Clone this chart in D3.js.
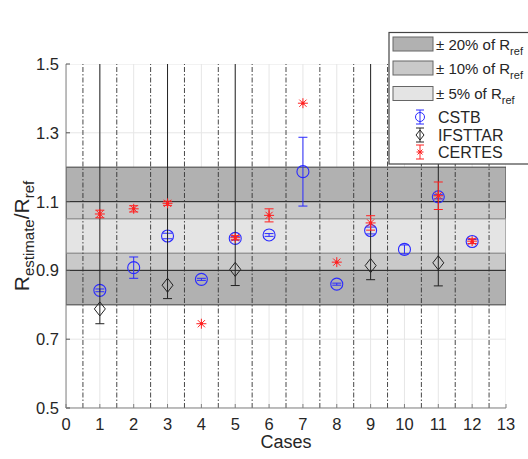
<!DOCTYPE html>
<html><head><meta charset="utf-8">
<script src="https://cdn.jsdelivr.net/npm/d3@7/dist/d3.min.js"></script>
<style>body{margin:0;background:#fff}svg{display:block;font-family:"Liberation Sans",Arial,sans-serif}</style>
</head><body><svg id="c" width="528" height="459"></svg>
<script>
const xTicks = [0,1,2,3,4,5,6,7,8,9,10,11,12,13];
const yTicks = [0.5,0.7,0.9,1.1,1.3,1.5];
const cases = [1,2,3,4,5,6,7,8,9,10,11,12];
const cstb = [0.842,0.908,1.000,0.874,0.993,1.003,1.187,0.860,1.016,0.961,1.114,0.984];
const cstbErr = [0.004,0.031,0.008,0.003,0.005,0.004,0.100,0.003,0.010,0.013,0.006,0.006];
const ifCases = [1,3,5,9,11];
const ifsttar = [0.788,0.857,0.903,0.914,0.922];
const ifLow = [0.745,0.818,0.856,0.873,0.855];
const ifHigh = [1.60,1.60,1.60,1.60,1.60];
const ceCases = [1,2,3,4,5,6,7,8,9,11,12];
const certes = [1.064,1.079,1.095,0.745,0.995,1.060,1.386,0.924,1.038,1.117,0.985];
const ceErr = [0.011,0.009,0.006,0,0.006,0.019,0,0,0.021,0.040,0.007];
const bands = [{lo:0.8,hi:1.2,fill:"#b1b1b1",edge:"#555",label:"20"},
               {lo:0.9,hi:1.1,fill:"#c9c9c9",edge:"#333",label:"10"},
               {lo:0.95,hi:1.05,fill:"#e4e4e4",edge:"#8a8a8a",label:"5"}];
const separators = [0.5,1.5,2.5,3.5,4.5,5.5,6.5,7.5,8.5,9.5,10.5,11.5,12.5];

const svg = d3.select("#c");
const x = d3.scaleLinear().domain([0,13]).range([66,506]);
const y = d3.scaleLinear().domain([0.5,1.5]).range([408,64]);
const BLUE="#2a2aff", RED="#ff2020", BLK="#222";

svg.append("clipPath").attr("id","pa").append("rect")
  .attr("x",x(0)).attr("y",y(1.5)).attr("width",x(13)-x(0)).attr("height",y(0.5)-y(1.5));
const g = svg.append("g").attr("clip-path","url(#pa)");

g.selectAll(".gx").data(xTicks).join("line").attr("x1",d=>x(d)).attr("x2",d=>x(d))
  .attr("y1",y(0.5)).attr("y2",y(1.5)).attr("stroke","#e6e6e6").attr("stroke-width",1);
g.selectAll(".gy").data(yTicks).join("line").attr("y1",d=>y(d)).attr("y2",d=>y(d))
  .attr("x1",x(0)).attr("x2",x(13)).attr("stroke","#e6e6e6").attr("stroke-width",1);

bands.forEach(b=>{
  g.append("rect").attr("x",x(0)).attr("width",x(13)-x(0))
   .attr("y",y(b.hi)).attr("height",y(b.lo)-y(b.hi)).attr("fill",b.fill)
   .attr("stroke",b.edge).attr("stroke-width",1.2);
});

g.selectAll(".sep").data(separators).join("line").attr("x1",d=>x(d)).attr("x2",d=>x(d))
  .attr("y1",y(0.5)).attr("y2",y(1.5)).attr("stroke","#333").attr("stroke-width",0.9)
  .attr("stroke-dasharray","5,2,1.5,2");

function errbar(sel, xv, lo, hi, color){
  const cw=4.5;
  sel.append("line").attr("x1",x(xv)).attr("x2",x(xv)).attr("y1",y(lo)).attr("y2",y(hi)).attr("stroke",color).attr("stroke-width",1);
  [lo,hi].forEach(v=>sel.append("line").attr("x1",x(xv)-cw).attr("x2",x(xv)+cw).attr("y1",y(v)).attr("y2",y(v)).attr("stroke",color).attr("stroke-width",1));
}
function circleM(sel,cx,cy){ sel.append("circle").attr("cx",cx).attr("cy",cy).attr("r",6).attr("fill","none").attr("stroke",BLUE).attr("stroke-width",1.1); }
function diamondM(sel,cx,cy){ sel.append("path").attr("d",`M${cx},${cy-7}L${cx+5.5},${cy}L${cx},${cy+7}L${cx-5.5},${cy}Z`).attr("fill","none").attr("stroke",BLK).attr("stroke-width",1); }
function starM(sel,cx,cy){
  const r=5, d=3.6;
  sel.append("path").attr("d",`M${cx-r},${cy}L${cx+r},${cy}M${cx},${cy-r}L${cx},${cy+r}M${cx-d},${cy-d}L${cx+d},${cy+d}M${cx-d},${cy+d}L${cx+d},${cy-d}`)
    .attr("stroke",RED).attr("stroke-width",1);
  sel.append("circle").attr("cx",cx).attr("cy",cy).attr("r",1.6).attr("fill",RED);
}

cases.forEach((c,i)=>{ errbar(g,c,cstb[i]-cstbErr[i],cstb[i]+cstbErr[i],BLUE); circleM(g,x(c),y(cstb[i])); });
ifCases.forEach((c,i)=>{ errbar(g,c,ifLow[i],ifHigh[i],BLK); diamondM(g,x(c),y(ifsttar[i])); });
ceCases.forEach((c,i)=>{ if(ceErr[i]>0) errbar(g,c,certes[i]-ceErr[i],certes[i]+ceErr[i],RED); starM(g,x(c),y(certes[i])); });

const ax = svg.append("g").attr("font-size",16.5).attr("fill","#262626");
ax.append("line").attr("x1",x(0)).attr("x2",x(0)).attr("y1",y(0.5)).attr("y2",y(1.5)).attr("stroke","#808080");
ax.append("line").attr("x1",x(0)).attr("x2",x(13)).attr("y1",y(0.5)).attr("y2",y(0.5)).attr("stroke","#808080");
yTicks.forEach(t=>{
  ax.append("line").attr("x1",x(0)).attr("x2",x(0)+4).attr("y1",y(t)).attr("y2",y(t)).attr("stroke","#555");
  ax.append("text").attr("x",x(0)-7).attr("y",y(t)+6).attr("text-anchor","end").text(d3.format(".1f")(t));
});
xTicks.forEach(t=>{
  ax.append("line").attr("x1",x(t)).attr("x2",x(t)).attr("y1",y(0.5)).attr("y2",y(0.5)-4).attr("stroke","#808080");
  ax.append("text").attr("x",x(t)).attr("y",y(0.5)+22).attr("text-anchor","middle").text(t);
});
svg.append("text").attr("x",(x(0)+x(13))/2).attr("y",448).attr("text-anchor","middle")
  .attr("font-size",18).attr("fill","#262626").text("Cases");
const yl = svg.append("text").attr("transform",`translate(29,${(y(0.5)+y(1.5))/2}) rotate(-90)`)
  .attr("text-anchor","middle").attr("font-size",21).attr("fill","#262626");
yl.append("tspan").text("R");
yl.append("tspan").attr("font-size",15).attr("dy",5).text("estimate");
yl.append("tspan").attr("dy",-5).text("/R");
yl.append("tspan").attr("font-size",15).attr("dy",5).text("ref");

const L = svg.append("g");
L.append("rect").attr("x",389).attr("y",32.5).attr("width",160).attr("height",131.5)
  .attr("fill","#fff").attr("stroke","#444").attr("stroke-width",1.2);
const rowsY=[44,68,93.5];
bands.forEach((b,i)=>{
  L.append("rect").attr("x",393).attr("y",rowsY[i]-7).attr("width",40).attr("height",14)
    .attr("fill",b.fill).attr("stroke","#666").attr("stroke-width",1);
  const t=L.append("text").attr("x",436).attr("y",rowsY[i]+5.5).attr("font-size",15).attr("fill","#262626");
  t.append("tspan").text(`\u00b1 ${b.label}% of R`);
  t.append("tspan").attr("font-size",11).attr("dy",5).text("ref");
});
const serY=[117,135,152], names=["CSTB","IFSTTAR","CERTES"];
(function(){
  const cx=420;
  [[BLUE,0],[BLK,1],[RED,2]].forEach(([col,i])=>{
    L.append("line").attr("x1",cx).attr("x2",cx).attr("y1",serY[i]-7).attr("y2",serY[i]+7).attr("stroke",col);
    L.append("line").attr("x1",cx-4).attr("x2",cx+4).attr("y1",serY[i]-7).attr("y2",serY[i]-7).attr("stroke",col);
    L.append("line").attr("x1",cx-4).attr("x2",cx+4).attr("y1",serY[i]+7).attr("y2",serY[i]+7).attr("stroke",col);
  });
  L.append("circle").attr("cx",cx).attr("cy",serY[0]).attr("r",4.5).attr("fill","none").attr("stroke",BLUE);
  L.append("path").attr("d",`M${cx},${serY[1]-5}L${cx+4},${serY[1]}L${cx},${serY[1]+5}L${cx-4},${serY[1]}Z`).attr("fill","none").attr("stroke",BLK);
  const r=3.5,d=2.5,cy=serY[2];
  L.append("path").attr("d",`M${cx-r},${cy}L${cx+r},${cy}M${cx-d},${cy-d}L${cx+d},${cy+d}M${cx-d},${cy+d}L${cx+d},${cy-d}`).attr("stroke",RED);
  L.append("circle").attr("cx",cx).attr("cy",cy).attr("r",1.3).attr("fill",RED);
})();
names.forEach((n,i)=>L.append("text").attr("x",438).attr("y",serY[i]+6).attr("font-size",16).attr("fill","#262626").text(n));
</script></body></html>
